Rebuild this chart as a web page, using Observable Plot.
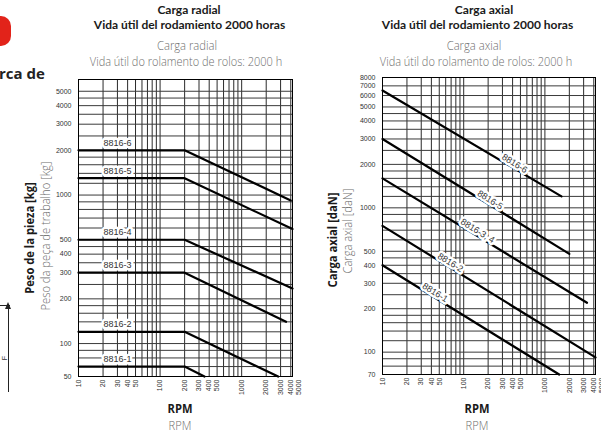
<!DOCTYPE html>
<html><head><meta charset="utf-8">
<script src="https://cdn.jsdelivr.net/npm/d3@7"></script>
<script src="https://cdn.jsdelivr.net/npm/@observablehq/plot@0.6"></script>
<style>
html,body{margin:0;padding:0;background:#fff;}
#page{position:relative;width:601px;height:441px;overflow:hidden;font-family:"Open Sans","Lato",sans-serif;}
.t{position:absolute;white-space:nowrap;line-height:1;}
.plot{position:absolute;}
.plot svg{overflow:visible;}
</style></head>
<body><div id="page"></div>
<script>
// ---------- data ----------
const rpmTicks = [10, 20, 30, 40, 50, 100, 200, 300, 400, 500, 1000, 2000, 3000, 4000, 5000];
const radialTicks = [50, 100, 200, 300, 400, 500, 1000, 2000, 3000, 4000, 5000];
const axialTicks = [70, 100, 200, 300, 400, 500, 1000, 2000, 3000, 4000, 5000, 6000, 7000, 8000];

// radial load (kg): flat up to knee rpm, then falling
const radialModels   = ["8816-6", "8816-5", "8816-4", "8816-3", "8816-2", "8816-1"];
const radialFlatLoad = [2000, 1300, 500, 300, 120, 70];
const radialKneeRpm  = [200, 200, 200, 200, 200, 200];
const radialEndRpm   = [4000, 4200, 4200, 3500, 2800, 350];
const radialEndLoad  = [920, 590, 235, 140, 50, 50];
const radialLabelRpm = 30;

// axial load (daN): straight lines from 10 rpm
const axialModels    = ["8816-6", "8816-5", "8816-3, 4", "8816-2", "8816-1"];
const axialStartLoad = [6500, 3000, 1600, 750, 400];
const axialEndRpm    = [1600, 2000, 3300, 4200, 1500];
const axialEndLoad   = [1200, 480, 220, 92, 70];
const axialLabelRpm  = [400, 200, 140, 65, 42];

// grid multipliers per decade
const gridSteps = [1, 1.2, 1.4, 1.6, 1.8, 2, 2.5, 3, 3.5, 4, 4.5, 5, 6, 7, 8, 9];
const xGridSteps = [1, 2, 3, 4, 5, 6, 7, 8, 9];
const decades = [10, 100, 1000];

// ---------- helpers ----------
const page = document.getElementById("page");
function addText(txt, o) {
  const d = document.createElement("div");
  d.className = "t";
  d.textContent = txt;
  d.style.left = o.x + "px";
  d.style.top = o.y + "px";
  d.style.fontSize = o.size + "px";
  d.style.fontWeight = o.weight || 400;
  d.style.color = o.color || "#1a1a1a";
  if (o.family) d.style.fontFamily = o.family;
  d.style.transform = `translate(-50%,-50%) rotate(${o.rotate || 0}deg) scaleX(${o.sx || 1})`;
  page.appendChild(d);
}
const fmt = d3.format("d");
const xDomain = [10, 4200];

function gridValues(steps, dom) {
  return decades.flatMap(d => steps.map(s => s * d))
    .filter(v => v > dom[0] * 1.001 && v < dom[1] * 0.999);
}

function basePlot({yDomain, yTicks, marginLeft, width, marginRight, marks}) {
  return Plot.plot({
    width, height: 340,
    marginLeft, marginRight, marginTop: 19, marginBottom: 24,
    x: {type: "log", domain: xDomain, axis: null},
    y: {type: "log", domain: yDomain, axis: null, clamp: true},
    style: {fontFamily: "'Liberation Sans', Arial, sans-serif", fontSize: "7px", background: "transparent", color: "#333"},
    marks: [
      Plot.ruleX(gridValues(xGridSteps, xDomain), {stroke: "#2b2b2b", strokeWidth: 1}),
      Plot.ruleY(gridValues(gridSteps, yDomain), {stroke: "#3a3a3a", strokeWidth: 1}),
      Plot.frame({stroke: "#000", strokeWidth: 1}),
      // y tick labels
      Plot.text(yTicks, {y: d => d, frameAnchor: "left", text: fmt, textAnchor: "end", dx: -7, fill: "#333", fontSize: 7}),
      // x tick labels (rotated)
      Plot.text(rpmTicks, {x: d => d, frameAnchor: "bottom", text: fmt, rotate: -90, textAnchor: "end",
        lineAnchor: "middle", dy: 3, fill: "#333", fontSize: 7}),
      ...marks
    ]
  });
}

// ---------- radial chart ----------
const radialRows = radialModels.flatMap((m, i) => [
  {m, rpm: 10, load: radialFlatLoad[i]},
  {m, rpm: radialKneeRpm[i], load: radialFlatLoad[i]},
  {m, rpm: radialEndRpm[i], load: radialEndLoad[i]}
]);
const radialLabels = radialModels.map((m, i) => ({m, rpm: radialLabelRpm, load: radialFlatLoad[i]}));

const left = basePlot({
  yDomain: [60, 6000], yTicks: radialTicks, marginLeft: 78, width: 302, marginRight: 10,
  marks: [
    Plot.line(radialRows, {x: "rpm", y: "load", z: "m", stroke: "#000", strokeWidth: 2.2}),
    Plot.text(radialLabels, {x: "rpm", y: "load", text: "m", dy: -7.5, fontSize: 9, fill: "#333",
      stroke: "white", strokeWidth: 5, paintOrder: "stroke", strokeLinejoin: "round"})
  ]
});
const lw = document.createElement("div"); lw.className = "plot";
lw.style.left = "0px"; lw.style.top = "60px"; lw.appendChild(left); page.appendChild(lw);

// ---------- axial chart ----------
const axialRows = axialModels.flatMap((m, i) => [
  {m, rpm: 10, load: axialStartLoad[i]},
  {m, rpm: axialEndRpm[i], load: axialEndLoad[i]}
]);
const axialLabels = axialModels.map((m, i) => {
  const k = Math.log(axialEndLoad[i] / axialStartLoad[i]) / Math.log(axialEndRpm[i] / 10);
  return {m, rpm: axialLabelRpm[i], load: axialStartLoad[i] * Math.pow(axialLabelRpm[i] / 10, k)};
});

const right = basePlot({
  yDomain: [70, 8000], yTicks: axialTicks, marginLeft: 80, width: 299, marginRight: 6,
  marks: [
    Plot.line(axialRows, {x: "rpm", y: "load", z: "m", stroke: "#000", strokeWidth: 2.2}),
    Plot.text(axialLabels, {x: "rpm", y: "load", text: "m", rotate: 32, dy: -4, dx: 2, fontSize: 9, fill: "#333",
      stroke: "white", strokeWidth: 5, paintOrder: "stroke", strokeLinejoin: "round"})
  ]
});
const rw = document.createElement("div"); rw.className = "plot";
rw.style.left = "302px"; rw.style.top = "58px"; rw.appendChild(right); page.appendChild(rw);

// ---------- texts ----------
const boldF = "'Open Sans', sans-serif";
const titleF = "Lato, 'Open Sans', sans-serif";
addText("Carga radial", {x: 189, y: 10, size: 12, weight: 700, family: titleF});
addText("Vida útil del rodamiento 2000 horas", {x: 189.5, y: 25, size: 12, weight: 700, family: titleF});
addText("Carga radial", {x: 187, y: 46, size: 12.5, weight: 300, color: "#6e6e6e", sx: 0.9, family: boldF});
addText("Vida útil do rolamento de rolos: 2000 h", {x: 186, y: 62, size: 12.5, weight: 300, color: "#6e6e6e", sx: 0.88, family: boldF});

addText("Carga axial", {x: 484, y: 10, size: 12, weight: 700, family: titleF});
addText("Vida útil del rodamiento 2000 horas", {x: 477.5, y: 25, size: 12, weight: 700, family: titleF});
addText("Carga axial", {x: 474, y: 46, size: 12.5, weight: 300, color: "#6e6e6e", sx: 0.9, family: boldF});
addText("Vida útil do rolamento de rolos: 2000 h", {x: 476, y: 62, size: 12.5, weight: 300, color: "#6e6e6e", sx: 0.88, family: boldF});

addText("Peso de la pieza [kg]", {x: 29, y: 238, size: 13, weight: 700, rotate: -90, sx: 0.86, family: boldF});
addText("Peso da peça de trabalho [kg]", {x: 45, y: 236, size: 13, weight: 300, color: "#6e6e6e", rotate: -90, sx: 0.86, family: boldF});
addText("Carga axial [daN]", {x: 332, y: 240, size: 13, weight: 700, rotate: -90, sx: 0.86, family: boldF});
addText("Carga axial [daN]", {x: 347, y: 231, size: 13, weight: 300, color: "#6e6e6e", rotate: -90, sx: 0.86, family: boldF});

addText("RPM", {x: 180, y: 408, size: 13, weight: 700, sx: 0.86, family: boldF});
addText("RPM", {x: 180, y: 425, size: 13, weight: 300, color: "#6e6e6e", sx: 0.86, family: boldF});
addText("RPM", {x: 477, y: 408, size: 13, weight: 700, sx: 0.86, family: boldF});
addText("RPM", {x: 477, y: 425, size: 13, weight: 300, color: "#6e6e6e", sx: 0.86, family: boldF});

// fragments of neighbouring page content at the left edge
const red = document.createElement("div");
Object.assign(red.style, {position: "absolute", left: "-14px", top: "16px", width: "25px", height: "30px", background: "#e2231a", borderRadius: "10px"});
page.appendChild(red);
const frag = document.createElement("div");
frag.className = "t"; frag.textContent = "rca de";
Object.assign(frag.style, {left: "-1px", top: "66px", fontSize: "15px", fontWeight: 700, color: "#222", fontFamily: boldF});
page.appendChild(frag);
const shaft = document.createElement("div");
Object.assign(shaft.style, {position: "absolute", left: "8px", top: "307px", width: "1px", height: "85px", background: "#222"});
page.appendChild(shaft);
const head = document.createElement("div");
Object.assign(head.style, {position: "absolute", left: "5px", top: "302px", width: 0, height: 0,
  borderLeft: "3.5px solid transparent", borderRight: "3.5px solid transparent", borderBottom: "7px solid #222"});
page.appendChild(head);
const tick = document.createElement("div");
Object.assign(tick.style, {position: "absolute", left: "0px", top: "305px", width: "10px", height: "1px", background: "#222"});
page.appendChild(tick);
addText("F", {x: 4, y: 358, size: 7, weight: 400, rotate: -90, family: "'Liberation Sans', sans-serif", color: "#333"});
</script>
</body></html>
